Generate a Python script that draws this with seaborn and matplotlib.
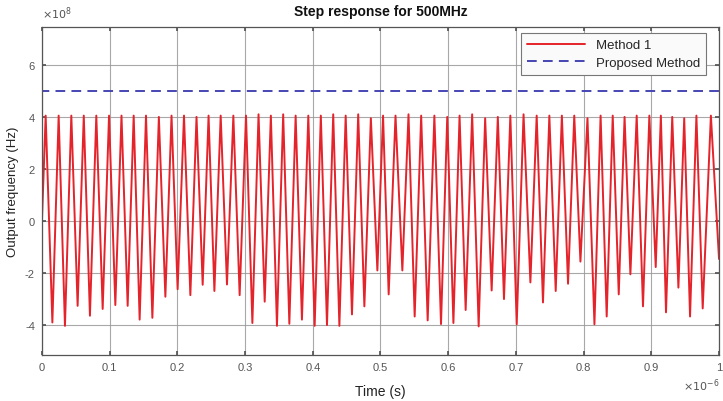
import numpy as np
import pandas as pd
import matplotlib
matplotlib.use("Agg")
import matplotlib.pyplot as plt
import seaborn as sns
from matplotlib.ticker import FuncFormatter

# --- data (time in microseconds, frequency in 1e8 Hz) ---
start_t = 0.0
start_v = 0.0

peak_t = [0.0055, 0.0247, 0.0434, 0.0618, 0.0803, 0.0991, 0.1175, 0.1355, 0.1537,
          0.1727, 0.1914, 0.2098, 0.2283, 0.2461, 0.2640, 0.2827, 0.3014, 0.3199,
          0.3381, 0.3563, 0.3747, 0.3934, 0.4119, 0.4302, 0.4486, 0.4671, 0.4858,
          0.5038, 0.5222, 0.5414, 0.5601, 0.5796, 0.5986, 0.6168, 0.6354, 0.6546,
          0.6733, 0.6918, 0.7113, 0.7307, 0.7494, 0.7679, 0.7862, 0.8057, 0.8251,
          0.8430, 0.8605, 0.8784, 0.8971, 0.9141, 0.9309, 0.9486, 0.9666, 0.9880]
peak_v = [4.05, 4.05, 4.05, 4.05, 4.05, 4.05, 4.05, 4.05, 4.05,
          4.0, 4.05, 4.05, 4.0, 4.05, 4.05, 4.05, 4.05, 4.1,
          4.05, 4.1, 4.05, 4.05, 4.05, 4.1, 4.05, 4.1, 3.95,
          4.05, 4.05, 4.1, 4.05, 4.05, 4.0, 4.05, 4.1, 3.95,
          4.0, 4.05, 4.1, 4.05, 4.05, 4.05, 4.05, 3.95, 4.05,
          4.05, 4.0, 4.05, 4.05, 4.05, 4.0, 3.95, 4.05, 4.05]

trough_t = [0.0154, 0.0340, 0.0527, 0.0709, 0.0897, 0.1084, 0.1266, 0.1443, 0.1631,
            0.1823, 0.2004, 0.2192, 0.2374, 0.2547, 0.2733, 0.2920, 0.3108, 0.3290,
            0.3471, 0.3654, 0.3840, 0.4028, 0.4210, 0.4393, 0.4579, 0.4762, 0.4954,
            0.5121, 0.5323, 0.5505, 0.5697, 0.5894, 0.6077, 0.6258, 0.6450, 0.6642,
            0.6824, 0.7012, 0.7214, 0.7400, 0.7588, 0.7770, 0.7953, 0.8160, 0.8341,
            0.8519, 0.8691, 0.8877, 0.9065, 0.9217, 0.9400, 0.9572, 0.9759]
trough_v = [-3.90, -4.03, -3.26, -3.64, -3.38, -3.23, -3.26, -3.79, -3.72,
            -2.91, -2.62, -2.85, -2.45, -2.69, -2.44, -2.85, -3.92, -3.10,
            -4.03, -3.95, -3.79, -4.03, -4.00, -4.03, -3.59, -3.28, -1.90,
            -2.82, -1.90, -3.67, -3.82, -3.96, -3.92, -3.42, -4.05, -2.67,
            -3.00, -3.97, -2.36, -3.13, -2.69, -2.41, -1.56, -3.97, -3.67,
            -2.82, -2.05, -3.28, -1.77, -3.51, -2.56, -3.67, -3.36]

end_t = 1.0
end_v = -1.46

proposed_t = [0.0, 0.0, 1.0]
proposed_v = [0.0, 5.0, 5.0]

# build the Method 1 trace: start, then alternate peak / trough, then end
m1_t = [start_t]
m1_v = [start_v]
for i in range(len(peak_t)):
    m1_t.append(peak_t[i])
    m1_v.append(peak_v[i])
    if i < len(trough_t):
        m1_t.append(trough_t[i])
        m1_v.append(trough_v[i])
m1_t.append(end_t)
m1_v.append(end_v)

df_m1 = pd.DataFrame({'t': np.array(m1_t) * 1e-6, 'f': np.array(m1_v) * 1e8})
df_prop = pd.DataFrame({'t': np.array(proposed_t) * 1e-6, 'f': np.array(proposed_v) * 1e8})

sns.set_theme(style="whitegrid")
plt.rcParams['font.family'] = ['Liberation Sans', 'DejaVu Sans']

fig = plt.figure(figsize=(7.23, 4.02), dpi=100)
ax = fig.add_axes([0.058, 0.1144, 0.9365, 0.8156])
ax.set_facecolor('white')

sns.lineplot(data=df_m1, x='t', y='f', ax=ax, color='#e4232b', lw=1.4,
             estimator=None, sort=False, label='Method 1')
sns.lineplot(data=df_prop, x='t', y='f', ax=ax, color='#4646b4', lw=1.4,
             estimator=None, sort=False, label='Proposed Method',
             dashes=False, linestyle=(0, (5, 3.2)))

ax.set_xlim(0, 1e-6)
ax.set_ylim(-5.15e8, 7.45e8)
ax.set_xticks(np.arange(0, 1.01, 0.1) * 1e-6)
ax.set_yticks(np.arange(-4, 7, 2) * 1e8)
ax.xaxis.set_major_formatter(FuncFormatter(lambda v, p: f"{v / 1e-6:.10g}" if abs(v) > 1e-12 else "0"))
ax.yaxis.set_major_formatter(FuncFormatter(lambda v, p: f"{v / 1e8:.0f}"))

ax.grid(True, color='#999999', lw=0.8, alpha=0.85)
for s in ax.spines.values():
    s.set_visible(True)
    s.set_color('#555555')
    s.set_linewidth(0.9)
ax.tick_params(axis='both', labelsize=8, colors='#555555', length=3, direction='in',
               bottom=True, left=True, top=True, right=True, pad=5)
for lab in ax.get_xticklabels() + ax.get_yticklabels():
    lab.set_color('#555555')

ax.set_xlabel('Time (s)', fontsize=10, color='#222222', labelpad=9)
ax.set_ylabel('Output frequency (Hz)', fontsize=9.5, color='#222222', labelpad=4)
ax.set_title('Step response for 500MHz', fontsize=10, fontweight='bold', color='#111111', pad=9)

ax.text(0.0, 1.018, r'$\times10^{8}$', transform=ax.transAxes, fontsize=8,
        color='#555555', ha='left', va='bottom')
ax.text(1.0, -0.065, r'$\times10^{-6}$', transform=ax.transAxes, fontsize=8,
        color='#555555', ha='right', va='top')

leg = ax.legend(loc='upper right', bbox_to_anchor=(0.981, 0.982), fontsize=9.5,
                handlelength=4.4, frameon=True, fancybox=False, borderpad=0.45,
                labelspacing=0.42, handletextpad=0.8, borderaxespad=0)
leg.get_frame().set_edgecolor('#777777')
leg.get_frame().set_facecolor('#fafafa')
leg.get_frame().set_alpha(1.0)
leg.get_frame().set_linewidth(0.8)

fig.savefig('out.png', dpi=100)
